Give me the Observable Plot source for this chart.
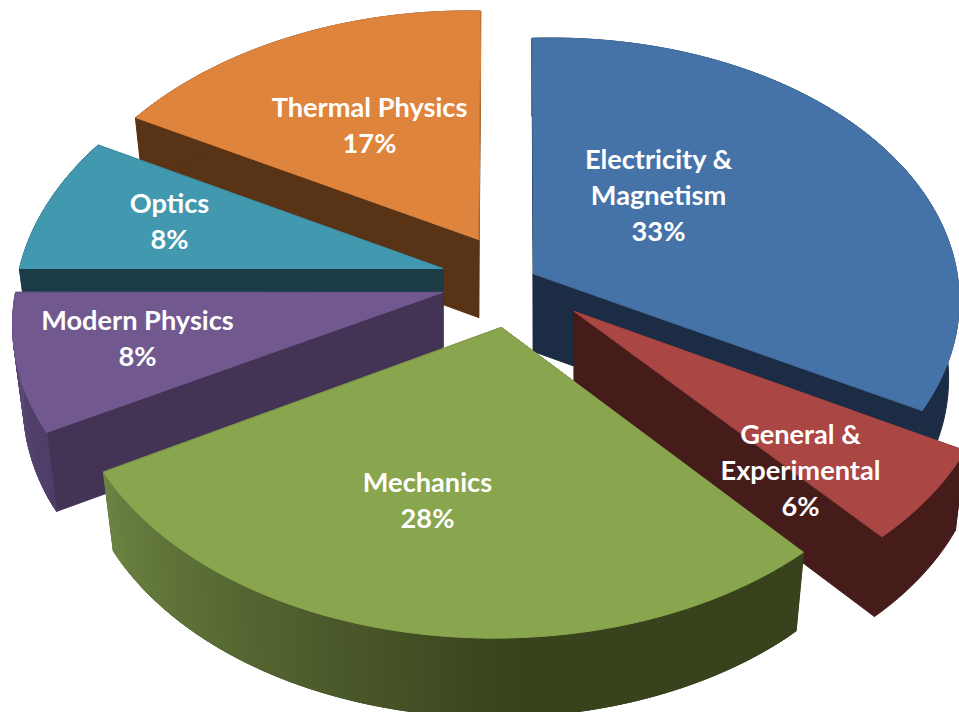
<!DOCTYPE html>
<html>
<head>
<meta charset="utf-8">
<script src="https://cdn.jsdelivr.net/npm/d3@7"></script>
<script src="https://cdn.jsdelivr.net/npm/@observablehq/plot@0.6"></script>
<style>html,body{margin:0;padding:0;background:#fff;overflow:hidden}svg{display:block}</style>
</head>
<body>
<div id="chart"></div>
<script>
// Data
const categories = ["Electricity & Magnetism","General & Experimental","Mechanics","Modern Physics","Optics","Thermal Physics"];
const shares = [33,6,28,8,8,17];
const labels = ["Electricity &\nMagnetism\n33%","General &\nExperimental\n6%","Mechanics\n28%","Modern Physics\n8%","Optics\n8%","Thermal Physics\n17%"];

// Layout of the exploded pie
const apexX = [533,574,501,442,442,478];
const apexY = [273,311,327,292,268,239];
const labelX = [658,800,427,137,169,369];
const labelY = [193,468,498,336,219,123];
const rStart = [417,412,416,417,423,420];
const rEnd   = [412,412,426,427,425,405];
const rBump  = [15,0,0,0,0,0];
const turnStart = [0.25,0.5,-1,-0.3,0,0];
const turnEnd   = [0,-1,-1,0,0,-0.3];
const tiltBy = [0.643,0.643,0.636,0.643,0.643,0.643];
const depthBy = [78,80,79,79,78,78];
const drawOrder = [5,0,4,3,1,2];

// Style
const topColors = ["#4572A7","#AA4643","#89A54E","#71588F","#4198AF","#DE843D"];
const wallColors = ["#1B2C44","#451C1A","#38421D","#433354","#1B3C47","#583315"];
const outerStart = ["#1B2C44","#451C1A","#38421D","#4D3D67","#1B3C47","#583315"];
const outerEnd   = ["#1B2C44","#451C1A","#6C8342","#5D4A7B","#1B3C47","#583315"];

// Projection parameters
const vanishX = 510, persp = 0.14, shrink = 0.975, step = 1;
const deg2rad = Math.PI / 180;

function project(i, theta, f, r, down) {
  // f: 0..1 position along the arc, r: 0 at the apex, 1 on the rim
  const R = (rStart[i] + (rEnd[i] - rStart[i]) * f + rBump[i] * Math.sin(Math.PI * f)) * r;
  const sin = Math.sin(theta), cos = Math.cos(theta);
  const s = 1 / (1 + persp * r * cos);
  let x = vanishX + (apexX[i] - vanishX) * s + R * sin * s;
  const y = apexY[i] - R * cos * tiltBy[i] * s + (down ? depthBy[i] : 0);
  if (down) x = apexX[i] + (x - apexX[i]) * shrink;
  return [x, y];
}

const rows = [];
let polyId = 0;
function poly(points, color) {
  const id = polyId++;
  for (const [x, y] of points) rows.push({id, x, y, color});
}
const total = d3.sum(shares);
const cum = d3.cumsum(shares);
const rad = v => v / total * 2 * Math.PI;

for (const i of drawOrder) {
  const a0 = rad(cum[i] - shares[i]) + turnStart[i] * deg2rad;
  const a1 = rad(cum[i]) + turnEnd[i] * deg2rad;
  const at = f => a0 + (a1 - a0) * f;
  // radial walls
  for (const f of [0, 1]) {
    poly([project(i,at(f),f,0,false), project(i,at(f),f,1,false), project(i,at(f),f,1,true), project(i,at(f),f,0,true)], wallColors[i]);
  }
  const n = Math.ceil((a1 - a0) / deg2rad / step);
  const rim = (down, from, to) => d3.range(from, to + 1).map(k => project(i, at(k / n), k / n, 1, down));
  if (outerStart[i] === outerEnd[i]) {
    // plain outer wall
    poly([...rim(false, 0, n), ...rim(true, 0, n).reverse()], outerStart[i]);
  } else {
    // shaded outer wall: overlapping strips, painted in order along the arc
    const ramp = d3.interpolateRgb(outerStart[i], outerEnd[i]);
    for (let k = 0; k < n; k++) {
      const g = i === 2 ? Math.max(0, ((k + .5) / n - 0.38) / 0.62) : (k + .5) / n;
      const end = Math.min(n, k + 2);
      poly([...rim(false, k, end), ...rim(true, k, end).reverse()], ramp(g));
    }
  }
  // top face
  poly([project(i,a0,0,0,false), ...rim(false, 0, n)], topColors[i]);
}

const labelRows = labels.map((t, i) => ({t, x: labelX[i], y: labelY[i]}));

const chart = Plot.plot({
  width: 959, height: 712,
  margin: 0,
  style: {background: "#fff"},
  x: {domain: [0, 959], range: [0, 959], axis: null},
  y: {domain: [0, 712], range: [0, 712], axis: null},
  marks: [
    Plot.line(rows, {x: "x", y: "y", z: "id", fill: "color", stroke: "color", strokeWidth: 1, curve: "linear-closed", clip: true}),
    Plot.text(labelRows, {x: "x", y: "y", text: "t", fill: "#fff", fontSize: 27.2, fontWeight: 700, fontFamily: "Lato", lineHeight: 1.324, textAnchor: "middle"})
  ]
});
document.getElementById("chart").append(chart);
</script>
</body>
</html>
